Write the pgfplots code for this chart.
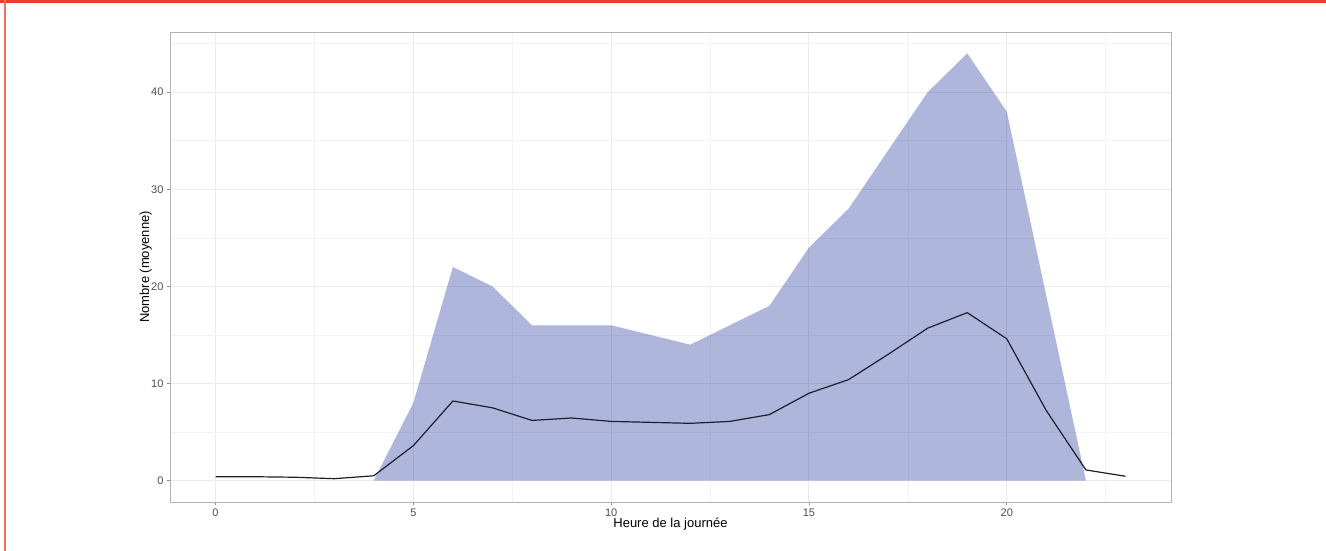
\documentclass[border=0pt]{standalone}
\usepackage{fontspec}
\setmainfont{Liberation Sans}
\usepackage{pgfplots}
\pgfplotsset{compat=1.18}
\definecolor{ribbon}{RGB}{54,72,165}
\definecolor{meanline}{RGB}{30,30,45}
\definecolor{gridmaj}{RGB}{235,235,235}
\definecolor{gridmin}{RGB}{243,243,243}
\definecolor{tlab}{RGB}{77,77,77}
\definecolor{frameA}{RGB}{240,58,46}
\definecolor{frameB}{RGB}{240,112,96}
\begin{document}
\begin{tikzpicture}[x=1pt,y=1pt]
\path[use as bounding box] (0,0) rectangle (1326,551);
\begin{axis}[
  at={(170pt,49pt)}, anchor=south west,
  width=1001pt, height=470pt, scale only axis,
  xmin=-1.15, xmax=24.15, ymin=-2.2, ymax=46.2,
  xtick={0,5,10,15,20}, ytick={0,10,20,30,40},
  minor xtick={2.5,7.5,12.5,17.5,22.5}, minor ytick={5,15,25,35,45},
  grid=both,
  major grid style={gridmaj, line width=1pt},
  minor grid style={gridmin, line width=0.6pt},
  axis line style={black!30, line width=0.9pt},
  tick align=outside, major tick length=3pt, minor tick length=0pt,
  tick style={black!45, line width=0.8pt},
  tick pos=left,
  ticklabel style={font=\fontsize{11}{13}\selectfont, text=tlab},
  /pgf/number format/assume math mode=true,
  xlabel={Heure de la journée}, ylabel={Nombre (moyenne)},
  label style={font=\fontsize{13}{15}\selectfont},
  xlabel style={at={(axis description cs:0.5,0)}, anchor=north, inner sep=0pt, yshift=-16pt},
  ylabel style={at={(axis description cs:-0.018,0.5)}, anchor=south, inner sep=0pt},
]
\addplot[draw=none, fill=ribbon, fill opacity=0.4] table {
x y
4 0
5 8
6 22
7 20
8 16
9 16
10 16
11 15
12 14
13 16
14 18
15 24
16 28
17 34
18 40
19 44
20 38
21 19
22 0
} \closedcycle;
\addplot[meanline, line width=1.2pt] table {
x y
0 0.4
1 0.4
2 0.35
3 0.2
4 0.5
5 3.6
6 8.2
7 7.5
8 6.2
9 6.45
10 6.1
11 6.0
12 5.9
13 6.1
14 6.8
15 9.0
16 10.4
17 13.0
18 15.7
19 17.3
20 14.6
21 7.2
22 1.1
23 0.45
};
\end{axis}
\draw[frameA, line width=2.7pt] (0,549.65) -- (1326,549.65);
\draw[frameB, line width=2pt] (5,0) -- (5,551);
\end{tikzpicture}
\end{document}
